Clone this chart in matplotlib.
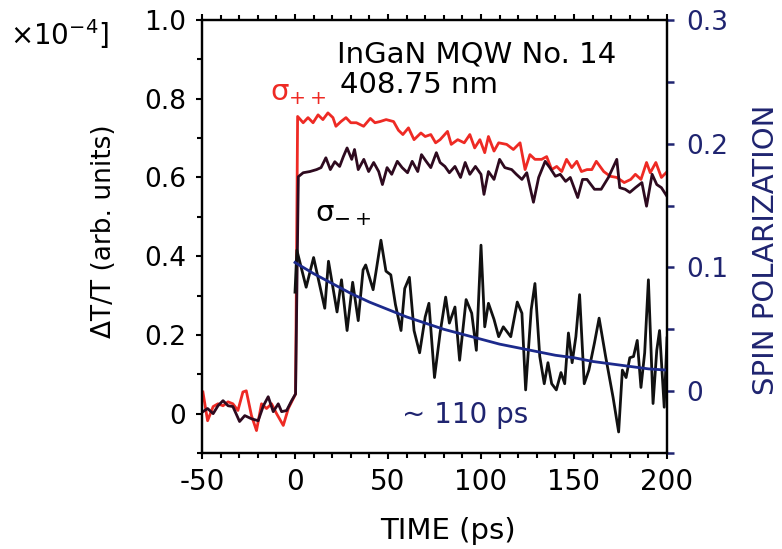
import numpy as np
import matplotlib
matplotlib.use('Agg')
import matplotlib.pyplot as plt
from matplotlib.ticker import MultipleLocator, FuncFormatter

plt.rcParams['font.family'] = ['DejaVu Sans']
plt.rcParams['mathtext.fontset'] = 'dejavusans'
plt.rcParams['axes.unicode_minus'] = False

# sigma++ trace (left axis, x1e-4)
t_pp = [-49.5, -47, -44, -41.4, -38.7, -36, -33.4, -30.7, -28, -26.2, -23.4, -20.7, -18, -15.3,
        -12.6, -9.9, -6.3, -3.6, -1.8, 0.3, 1.4, 4.4, 7, 9.7, 12.4, 15, 17.7, 20.4, 22, 24.7,
        27.4, 30, 33, 36.9, 40.5, 43, 45.7, 49, 53, 55.6, 58, 61, 64, 67.7, 70, 73, 75.6, 78,
        82, 84, 87.5, 91, 94, 96.6, 99.4, 102, 104, 107, 109.5, 113.8, 117.4, 121, 123.7,
        126.3, 129, 132.6, 135.3, 138, 140.7, 143.4, 146, 148.8, 151.5, 154, 157, 159.6, 162,
        166, 169.5, 173, 177, 180.5, 183, 186, 189, 191, 194, 197, 199.5]
v_pp = [0.055, -0.018, 0.018, 0.025, 0.02, 0.03, 0.025, 0.008, 0.055, 0.058, -0.005, -0.043,
        0.025, 0.013, 0.025, 0.0, -0.03, 0.013, 0.03, 0.05, 0.755, 0.739, 0.752, 0.739, 0.759,
        0.747, 0.764, 0.752, 0.73, 0.742, 0.752, 0.739, 0.739, 0.73, 0.75, 0.739, 0.742,
        0.747, 0.742, 0.72, 0.709, 0.726, 0.696, 0.713, 0.704, 0.709, 0.688, 0.696, 0.717,
        0.684, 0.696, 0.688, 0.709, 0.675, 0.696, 0.663, 0.704, 0.667, 0.688, 0.684, 0.671,
        0.688, 0.62, 0.658, 0.646, 0.646, 0.653, 0.62, 0.628, 0.615, 0.646, 0.625, 0.641,
        0.615, 0.62, 0.62, 0.641, 0.615, 0.603, 0.6, 0.587, 0.595, 0.608, 0.595, 0.638,
        0.612, 0.638, 0.6, 0.612]

# sigma-+ trace (left axis, x1e-4)
t_mp = [-49.5, -47, -44, -41.4, -38.7, -36, -33.4, -29.8, -27, -23.4, -19.8, -17, -14.4, -11.7,
        -9, -7.2, -4.5, -1.8, 0.3, 1.8, 4.4, 8, 11.6, 14, 16.6, 19, 21.4, 24, 26, 28, 30.5,
        32, 34, 37, 39.6, 42.3, 45, 47, 49.5, 52, 55, 57.6, 60.5, 63, 66, 68, 70.5, 73, 76,
        78, 80.6, 83, 86, 89, 91.5, 94, 97, 100, 101.6, 104, 107, 110, 112.8, 116.5, 119,
        122, 124.6, 128.2, 131, 134.5, 137, 140, 142.6, 145.5, 148, 152, 154.6, 157, 161,
        164.6, 168.5, 173, 174.6, 177.5, 180, 183, 186.5, 189, 192, 194.5, 197, 200]
v_mp = [0.005, 0.013, 0.0, 0.02, 0.033, 0.02, 0.018, -0.02, -0.005, -0.013, -0.018, 0.02,
        0.043, 0.005, 0.025, 0.005, 0.008, 0.033, 0.05, 0.602, 0.612, 0.615, 0.62, 0.625,
        0.65, 0.62, 0.64, 0.628, 0.653, 0.675, 0.646, 0.671, 0.62, 0.646, 0.615, 0.638,
        0.615, 0.582, 0.625, 0.608, 0.641, 0.625, 0.612, 0.641, 0.615, 0.658, 0.641, 0.625,
        0.663, 0.638, 0.628, 0.612, 0.628, 0.6, 0.638, 0.608, 0.628, 0.608, 0.557, 0.615,
        0.595, 0.646, 0.625, 0.62, 0.608, 0.595, 0.612, 0.537, 0.6, 0.641, 0.625, 0.603,
        0.608, 0.59, 0.6, 0.549, 0.595, 0.595, 0.57, 0.57, 0.6, 0.646, 0.574, 0.57, 0.562,
        0.574, 0.587, 0.527, 0.608, 0.582, 0.574, 0.552]

# spin polarization (right axis)
t_sp = [0, 1, 6, 10, 16, 18, 22.6, 25, 28, 31, 34, 36.6, 38, 42, 43.5, 46.2, 48.9, 51.5, 54,
        57, 59, 61.5, 64, 67, 70, 72, 75, 78, 81, 83, 86, 88.5, 92, 95, 97.5, 100, 102, 104,
        107, 109.5, 112, 116, 119.5, 122, 124, 127, 129, 131.6, 134, 136, 138, 140.5, 143,
        145, 147, 149, 151, 153, 155.5, 158, 161, 163.5, 167, 171, 174, 176, 178, 180, 182,
        184, 186, 188, 190, 192.5, 194.5, 196, 198.5, 200]
v_sp = [0.08, 0.114, 0.084, 0.108, 0.067, 0.105, 0.064, 0.09, 0.049, 0.088, 0.057, 0.098,
        0.102, 0.082, 0.096, 0.122, 0.097, 0.094, 0.07, 0.049, 0.083, 0.092, 0.049, 0.031,
        0.06, 0.071, 0.011, 0.047, 0.076, 0.055, 0.068, 0.025, 0.074, 0.063, 0.033, 0.118,
        0.052, 0.071, 0.058, 0.044, 0.052, 0.044, 0.072, 0.063, 0.001, 0.066, 0.087, 0.028,
        0.006, 0.023, 0.006, 0.001, 0.015, 0.006, 0.047, 0.023, 0.044, 0.078, 0.006, 0.017,
        0.039, 0.059, 0.028, -0.005, -0.033, 0.017, 0.011, 0.027, 0.028, 0.041, 0.003,
        0.031, 0.09, -0.01, 0.033, 0.049, -0.013, 0.043]

# exponential fit (~110 ps)
t_fit = list(range(0, 201, 10))
v_fit = [0.104, 0.095, 0.087, 0.079, 0.072, 0.066, 0.060, 0.055, 0.050, 0.046, 0.042,
         0.038, 0.035, 0.032, 0.029, 0.027, 0.024, 0.022, 0.020, 0.018, 0.017]

RED = '#ee2a24'
MAROON = '#2e0a1f'
NAVY = '#1f2470'
FIT = '#1c2a8c'

fig = plt.figure(figsize=(7.82, 5.49), dpi=100)
ax = fig.add_axes([202 / 782, 1 - 453 / 549, 465 / 782, 433 / 549])

ax.plot(t_pp, v_pp, color=RED, lw=2.0)
ax.plot(t_mp, v_mp, color=MAROON, lw=2.0)

ax.set_xlim(-50, 200)
ax.set_ylim(-0.1, 1.0)
ax.xaxis.set_major_locator(MultipleLocator(50))
ax.xaxis.set_minor_locator(MultipleLocator(10))
ax.yaxis.set_major_locator(MultipleLocator(0.2))
ax.yaxis.set_minor_locator(MultipleLocator(0.1))
ax.yaxis.set_major_formatter(FuncFormatter(lambda v, p: '0' if abs(v) < 1e-9 else f'{v:.1f}'))
ax.tick_params(axis='both', which='both', direction='out', width=1.5, top=True)
ax.tick_params(axis='both', which='major', length=4.5)
ax.tick_params(axis='both', which='minor', length=3.8)
ax.tick_params(axis='y', labelsize=19, pad=7)
ax.tick_params(axis='x', labelsize=20, pad=6)
for s in ax.spines.values():
    s.set_linewidth(1.6)

ax.set_xlabel('TIME (ps)', fontsize=21)
ax.xaxis.set_label_coords(0.529, -0.148)
ax.set_ylabel('ΔT/T (arb. units)', fontsize=19)
ax.yaxis.set_label_coords(-0.183, 0.513)

ax2 = ax.twinx()
ax2.plot(t_sp, v_sp, color='#111111', lw=2.0)
ax2.plot(t_fit, v_fit, color=FIT, lw=2.0)
ax2.set_ylim(-0.05, 0.3)
ax2.yaxis.set_major_locator(MultipleLocator(0.1))
ax2.yaxis.set_minor_locator(MultipleLocator(0.05))
ax2.yaxis.set_major_formatter(FuncFormatter(lambda v, p: '0' if abs(v) < 1e-9 else f'{v:.1f}'))
ax2.tick_params(axis='y', which='both', direction='out', width=1.8, colors=NAVY,
                labelsize=19, pad=9)
ax2.tick_params(axis='y', which='major', length=5)
ax2.tick_params(axis='y', which='minor', length=5)
ax2.spines['right'].set_color('black')
for s in ax2.spines.values():
    s.set_linewidth(1.6)
ax2.set_ylabel('SPIN POLARIZATION', fontsize=21, color=NAVY)
ax2.yaxis.set_label_coords(1.183, 0.47)

ax.text(22.6, 0.891, 'InGaN MQW No. 14', fontsize=21)
ax.text(24.2, 0.815, '408.75 nm', fontsize=21)
ax.text(-13.4, 0.797, r'$\mathregular{\sigma_{++}}$', fontsize=21, color=RED)
ax.text(10.8, 0.489, r'$\mathregular{\sigma_{-+}}$', fontsize=21, color='black')
ax.text(57.5, -0.025, '~ 110 ps', fontsize=20, color=NAVY)
fig.text(0.013, 0.969, r'$\times$10$^{-4}$]', fontsize=20, va='top')

fig.savefig('out.png', dpi=100)
